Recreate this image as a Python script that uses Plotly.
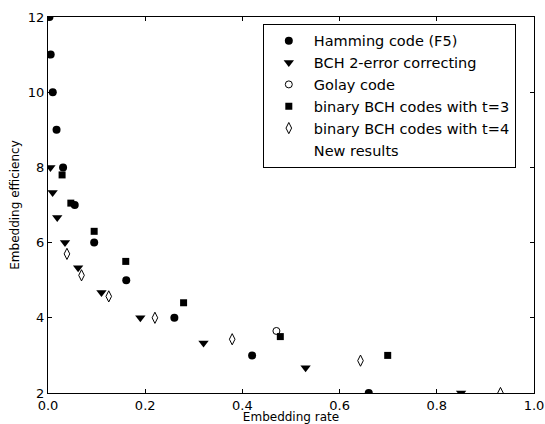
import plotly.graph_objects as go

# Hamming code (F5)
ham_x = [0.003, 0.0055, 0.0098, 0.0176, 0.031, 0.055, 0.095, 0.161, 0.26, 0.42, 0.66]
ham_y = [12, 11, 10, 9, 8, 7, 6, 5, 4, 3, 2]
# BCH 2-error correcting
bch2_x = [0.005, 0.0095, 0.019, 0.035, 0.062, 0.11, 0.19, 0.32, 0.53, 0.85]
bch2_y = [8.0, 7.33, 6.67, 6.0, 5.33, 4.67, 4.0, 3.33, 2.67, 2.0]
# Golay code
golay_x = [0.47]
golay_y = [3.65]
# binary BCH codes with t=3
bch3_x = [0.029, 0.047, 0.095, 0.16, 0.279, 0.478, 0.699]
bch3_y = [7.8, 7.05, 6.3, 5.5, 4.4, 3.5, 3.0]
# binary BCH codes with t=4
bch4_x = [0.039, 0.069, 0.125, 0.22, 0.379, 0.643, 0.931]
bch4_y = [5.7, 5.13, 4.57, 4.0, 3.43, 2.86, 2.0]

x_ticks = [0.0, 0.2, 0.4, 0.6, 0.8, 1.0]
x_tick_text = ["0.0", "0.2", "0.4", "0.6", "0.8", "1.0"]
y_ticks = [2, 4, 6, 8, 10, 12]

FONT = "DejaVu Sans"

fig = go.Figure()
fig.add_trace(go.Scatter(x=ham_x, y=ham_y, mode="markers", name="Hamming code (F5)",
                         marker=dict(symbol="circle", size=8, color="black")))
fig.add_trace(go.Scatter(x=bch2_x, y=bch2_y, mode="markers", name="BCH 2-error correcting",
                         marker=dict(symbol="triangle-down", size=9, color="black")))
fig.add_trace(go.Scatter(x=golay_x, y=golay_y, mode="markers", name="Golay code",
                         marker=dict(symbol="circle-open", size=7, color="black",
                                     line=dict(width=1))))
fig.add_trace(go.Scatter(x=bch3_x, y=bch3_y, mode="markers", name="binary BCH codes with t=3",
                         marker=dict(symbol="square", size=7, color="black")))
fig.add_trace(go.Scatter(x=bch4_x, y=bch4_y, mode="markers", name="binary BCH codes with t=4",
                         marker=dict(symbol="diamond-tall-open", size=8, color="black",
                                     line=dict(width=1))))
fig.add_trace(go.Scatter(x=[None], y=[None], mode="markers", name="New results",
                         marker=dict(size=1, color="rgba(0,0,0,0)")))

axis_common = dict(showgrid=False, zeroline=False, showline=True, linecolor="black",
                   linewidth=1, mirror="ticks", ticks="inside", ticklen=4,
                   tickcolor="black", automargin=False, ticklabeloverflow="allow",
                   tickfont=dict(family=FONT, size=13, color="black"))

fig.update_xaxes(range=[0, 1], tickvals=x_ticks, ticktext=x_tick_text,
                 title=dict(text="Embedding rate", font=dict(family=FONT, size=12, color="black"),
                            standoff=5),
                 **axis_common)
fig.update_yaxes(range=[2, 12], tickvals=y_ticks,
                 title=dict(text="Embedding efficiency", font=dict(family=FONT, size=12, color="black"),
                            standoff=5),
                 **axis_common)

fig.update_layout(
    width=545, height=424,
    margin=dict(l=48, r=11, t=17, b=31),
    plot_bgcolor="white", paper_bgcolor="white",
    font=dict(family=FONT, size=13, color="black"),
    showlegend=True,
    legend=dict(x=0.442, y=0.982, xanchor="left", yanchor="top",
                bordercolor="black", borderwidth=1, bgcolor="white",
                font=dict(family=FONT, size=14.5, color="black"),
                tracegroupgap=0, itemsizing="trace", itemwidth=40),
)

# remove the default page margin so the 545x424 figure fills the window exactly
fig.write_html("out.html", config={"displayModeBar": False},
               post_script="document.body.style.margin='0';document.body.style.overflow='hidden';")
